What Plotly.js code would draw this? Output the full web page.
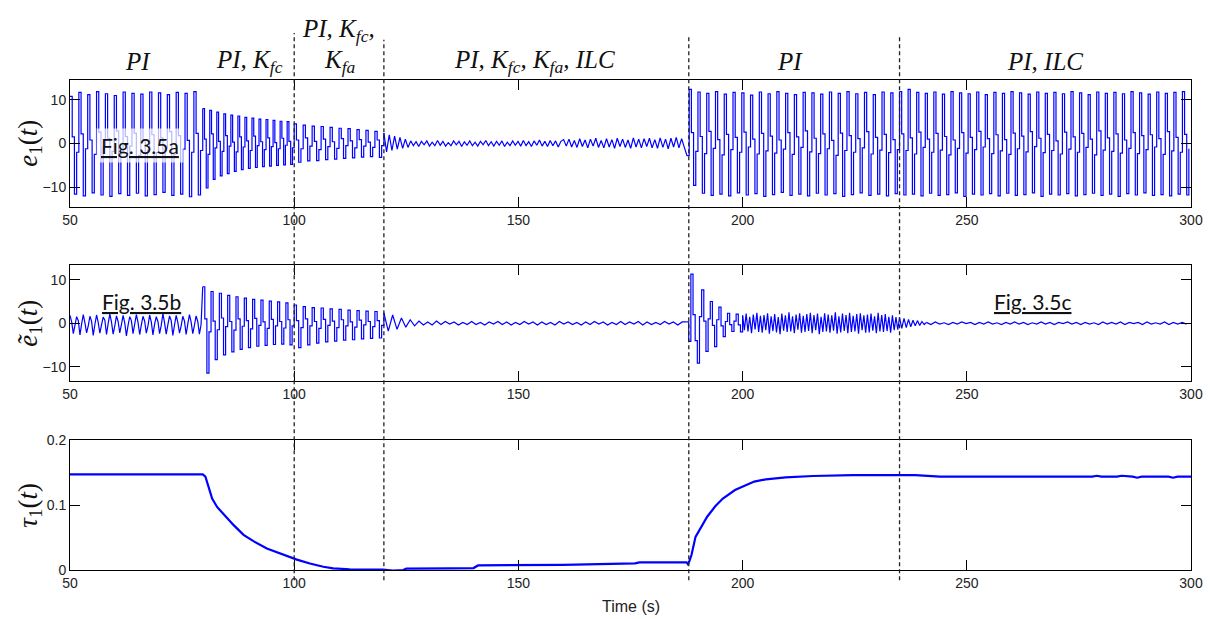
<!DOCTYPE html>
<html>
<head>
<meta charset="utf-8">
<script src="https://cdn.plot.ly/plotly-3.0.1.min.js"></script>
<style>html,body{margin:0;padding:0;background:#fff;}#chart{width:1213px;height:619px;}</style>
</head>
<body>
<div id="chart"></div>
<script>
// ---------------- DATA ----------------
// Time ticks
const xTicks = [50, 100, 150, 200, 250, 300];
// Phase boundaries (s)
const phaseBounds = [100, 120, 188, 235];
const phaseLabels = ["PI", "PI, K<sub>fc</sub>", "PI, K<sub>fc</sub>,", "K<sub>fa</sub>", "PI, K<sub>fc</sub>, K<sub>fa</sub>, ILC", "PI", "PI, ILC"];
const phaseLabelT = [65.2, 90.1, 109.8, 110.2, 153.7, 210.6, 267.4];

// e1(t): turning values (max, plateau, min, plateau ...) per segment
const e1_PI = [10.8,1.5,-11.6,-2.0, 11.7,2.2,-12.0,-1.2, 11.2,0.8,-11.3,-2.5, 11.9,2.6,-11.8,-0.9, 11.4,1.2,-12.1,-1.8,
  11.0,2.9,-11.5,-2.2, 11.8,1.6,-11.9,-0.6, 11.5,2.4,-11.4,-2.7, 11.3,0.9,-12.0,-1.5, 11.8,2.0,-11.7,-2.1,
  11.6,1.3,-11.2,-1.0, 11.2,2.7,-11.9,-2.4, 11.7,1.8,-11.6,-1.3, 11.5,0.7,-12.2,-2.0, 11.9,2.3,-11.8,-1.6];
const e1_Kfc = [8.0,1.0,-10.2,-2.5, 7.6,2.2,-8.2,-1.0, 7.2,0.5,-7.4,-1.8, 6.8,1.8,-6.9,-0.6, 6.5,0.3,-6.4,-1.9,
  6.3,1.5,-6.0,-0.8, 6.0,0.6,-5.7,-1.6, 5.8,1.7,-5.5,-0.5, 5.6,0.4,-5.3,-1.4, 5.5,1.3,-5.2,-0.7,
  5.3,0.2,-5.0,-1.2, 5.1,1.2,-4.9,-0.4, 5.0,0.5,-4.8,-1.0];
const e1_Kfa = [4.5,0.8,-4.3,-1.2, 4.2,1.3,-4.0,-0.6, 4.0,0.5,-3.9,-1.4, 3.9,1.0,-3.7,-0.7, 3.7,0.4,-3.6,-1.1,
  3.5,1.1,-3.4,-0.5, 3.4,0.6,-3.3,-1.0, 3.2,0.9,-3.1,-0.6, 3.0,0.3,-3.0,-0.9, 2.8,0.8,-3.2,-0.5];
const e1_ILC = [2.4,-1.9,2.0,-1.6,1.7,-1.3,1.4,-1.1,1.0,-0.9,
  0.6,-0.5,0.4,-0.7,0.5,-0.3,0.6,-0.6,0.3,-0.5,0.7,-0.4,0.5,-0.6,0.2,-0.5,0.6,-0.3,0.5,-0.7,0.4,-0.4,0.6,-0.5,0.3,-0.6,
  0.5,-0.3,0.7,-0.5,0.4,-0.6,0.5,-0.4,0.6,-0.7,0.3,-0.5,0.6,-0.4,0.5,-0.6,0.7,-0.5,0.4,-0.7,0.6,-0.4,0.8,-0.6,0.5,-0.7,0.7,-0.5,0.6,-0.8,0.5,
  0.9,-0.6,1.0,-0.8,0.7,-0.9,1.1,-0.7,0.8,-1.0,1.0,-0.6,1.2,-0.9,0.7,-1.0,1.1,-0.8,0.9,-1.1,1.2,-0.7,1.0,-0.9,0.8,-1.1,
  1.3,-0.8,1.0,-1.0,1.1,-0.7,1.2,-1.0,0.9,-1.1,1.3,-0.9,1.0,-1.2,1.2,-0.8,1.4,-1.0,1.1,-0.9];
const e1_PI2 = [-2.8, 12.4,2.5,-9.6,-1.8, 11.8,1.6,-11.4,-2.3, 11.5,2.8,-11.9,-1.1, 11.9,0.9,-11.6,-2.6, 11.3,2.1,-12.0,-1.4,
  11.7,1.4,-11.3,-2.0, 11.6,2.6,-11.8,-0.8, 11.1,1.0,-11.5,-2.4, 11.8,2.3,-12.1,-1.7, 11.4,1.7,-11.7,-2.2,
  11.9,0.8,-11.2,-1.3, 11.5,2.5,-11.9,-2.5, 11.2,1.5,-11.6,-0.9, 11.7,2.9,-12.0,-1.9, 11.6,1.2,-11.4,-2.3,
  11.3,2.2,-11.8,-1.2, 11.8,0.7,-11.5,-2.7, 11.5,2.4,-12.1,-1.6, 11.9,1.8,-11.7,-2.0, 11.4,1.1,-11.3,-1.0,
  11.7,2.7,-11.9,-2.4, 11.2,1.4,-11.6,-1.5, 11.8,2.1,-12.0,-2.1, 11.6,0.9,-11.5,-1.4];
const e1_PIILC = [11.9,2.2,-11.8,-1.6, 12.4,1.3,-11.6,-2.4, 11.7,2.6,-12.0,-0.9, 11.5,1.0,-11.4,-2.0, 11.8,2.3,-11.9,-1.5,
  11.3,1.6,-11.7,-2.6, 11.9,0.8,-11.3,-1.1, 11.6,2.5,-12.1,-2.2, 11.4,1.4,-11.6,-1.4, 11.8,2.8,-11.8,-0.8,
  11.2,1.1,-11.5,-2.3, 11.7,2.0,-12.0,-1.7, 11.5,0.9,-11.4,-2.5, 11.9,2.4,-11.9,-1.2, 11.6,1.7,-11.7,-1.9,
  11.3,2.7,-11.3,-0.7, 11.8,1.2,-12.1,-2.1, 11.5,2.1,-11.6,-1.6, 11.7,0.6,-11.8,-2.4, 11.4,2.6,-11.5,-1.3,
  11.9,1.5,-12.0,-2.0, 11.6,2.3,-11.7,-0.9, 11.2,1.0,-11.4,-2.6, 11.8,2.9,-11.9,-1.5, 11.5,1.3,-11.6,-1.8,
  11.7,2.2,-12.1,-2.2, 11.4,0.8,-11.5,-1.1, 11.9,2.5,-11.8,-2.3, 11.6,1.8,-11.3,-1.4, 11.3,2.0,-11.9,-0.8,
  11.8,1.1,-11.7,-2.5, 11.5,2.7,-12.0,-1.7, 11.7,1.4,-11.6,-2.0, 11.9,2.1,-11.8,-1.2];
const e1_segT = [[50,79.6],[79.6,100],[100,120],[120,187.6],[187.6,235],[235,300]];
const e1_segStep = [true, true, true, false, true, true];

// ẽ1(t): turning values per segment
const et_PI = [1.8,0.3,-2.4,-0.5, 1.5,0.6,-2.7,-0.2, 2.0,0.1,-2.2,-0.6, 1.6,0.5,-2.8,-0.3, 1.9,0.2,-2.3,-0.4,
  1.4,0.7,-2.6,-0.1, 2.1,0.3,-2.5,-0.6, 1.7,0.4,-2.2,-0.3, 1.8,0.1,-2.9,-0.5, 1.5,0.6,-2.4,-0.2,
  2.0,0.2,-2.6,-0.4, 1.6,0.5,-2.3,-0.6, 1.9,0.3,-2.7,-0.2, 1.5,0.4,-2.4,-0.5, 2.2,0.1,-2.5,-0.3,
  1.7,0.6,-2.8,-0.4, 1.8,0.2,-2.3,-0.6, 1.6,0.5,-2.6,-0.2, 2.0,0.3,-2.4,-0.5, 1.7,0.4,-2.5,-0.3];
const et_Kfc = [8.4,1.0,-11.5,-2.0, 7.3,0.5,-8.4,-1.5, 6.9,1.2,-7.3,-0.8, 6.4,0.4,-6.6,-1.6, 6.1,1.0,-6.0,-0.7,
  5.8,0.6,-5.6,-1.3, 5.5,1.1,-5.3,-0.5, 5.3,0.3,-5.1,-1.2, 5.1,0.9,-4.9,-0.6, 4.9,0.4,-4.8,-1.1, 4.7,0.8,-5.0,-0.6];
const et_Kfa = [4.2,0.6,-5.6,-1.0, 3.8,1.0,-5.0,-0.6, 3.6,0.4,-4.6,-1.2, 3.5,0.9,-4.3,-0.5, 3.3,0.5,-4.1,-1.0,
  3.2,0.8,-3.9,-0.6, 3.0,0.3,-3.8,-0.9, 2.9,0.7,-3.6,-0.4, 2.8,0.4,-3.5,-0.8, 2.7,0.6,-3.4,-0.5];
const et_ILC = [2.4,-1.8,1.9,-1.4,1.2,-0.9,0.8,-0.6,0.5,-0.4,0.3,-0.4,0.5,-0.3,0.4,-0.2,0.3,-0.4,0.2,-0.3,0.4,-0.3,0.2,-0.4,
  0.3,-0.2,0.4,-0.3,0.3,-0.4,0.2,-0.3,0.4,-0.2,0.3,-0.4,0.3,-0.3,0.2,-0.4,0.4,-0.2,0.3,-0.3,0.2,-0.4,0.3,-0.3,0.4,-0.2,
  0.3,-0.4,0.2,-0.3,0.4,-0.3,0.3,-0.2,0.4,-0.4,0.3,-0.3,0.2,-0.3,0.4,-0.2,0.3,-0.4,0.3];
const et_PIjump = [0.3,-4.2,11.3,2.0,-4.0,-9.2,1.5,7.7,0.5,-6.5,1.0,5.0,-0.5,-5.4,0.8,3.7,-0.6,-3.1,0.4,2.3,-0.3,-1.9,0.5,2.1,-0.4,-2.0];
const et_PI2 = [1.8,-1.6,2.2,-1.9,1.5,-2.3,2.0,-1.4,2.4,-2.0,1.7,-2.2,1.9,-1.6,2.3,-2.4,1.6,-1.8,2.1,-2.1,1.4,-2.5,2.2,-1.7,
  1.8,-2.0,2.5,-1.9,1.6,-2.3,2.0,-1.5,2.3,-2.2,1.7,-2.0,2.1,-1.8,2.4,-2.3,1.9,-1.6,2.2,-2.5,1.5,-2.0,2.3,-1.9,2.0,-2.2,
  1.8,-1.7,2.5,-2.4,1.6,-2.1,2.2,-1.8,1.9,-2.3,2.4,-2.0,1.7,-1.9,2.1,-2.4,2.3,-1.6,1.8,-2.2,2.0,-2.1,2.2,-1.7,1.6,-2.3,
  2.4,-1.9,1.9,-2.0,2.1,-1.8,1.5,-2.2,1.8,-1.6,1.4,-1.5];
const et_ILCsettle = [1.3,-1.2,1.1,-1.0,0.9,-0.8,0.7,-0.6,0.6,-0.5,0.4,-0.3];
const et_PIILC = [0.2,-0.3,0.3,-0.2,0.1,-0.3,0.2,-0.2,0.3,-0.1,0.2,-0.3,0.2,-0.2,0.3,-0.2,0.1,-0.3,0.2,-0.2,0.3,-0.2,
  0.2,-0.3,0.1,-0.2,0.3,-0.2,0.2,-0.3,0.2,-0.1,0.3,-0.2,0.2,-0.3,0.2,-0.2,0.1,-0.3,0.3,-0.2,0.2,-0.2,0.3,-0.3,0.2,-0.1,
  0.2,-0.3,0.3,-0.2,0.1,-0.2,0.3,-0.3,0.2,-0.2,0.2,-0.2];
const et_segT = [[50,79.6],[79.6,100],[100,120],[120,187.5],[187.5,200],[200,235],[235,241],[241,300]];
const et_segStep = [false, true, true, false, true, false, false, false];

// τ1(t)
const tauT = [50, 79.6, 80.2, 80.9, 81.7, 82.8, 84.3, 86.5, 88.7, 91, 93.9, 97.6, 100.6, 103.5, 106.5, 108.7, 112.4, 119.8, 122, 124.3,
  125, 135, 140, 141, 160, 176, 177, 187.5, 187.8, 188.1, 188.6, 189.5, 190.8, 192.1, 193.9, 195.6, 198.3, 200, 202.6, 205.2,
  209.6, 215.7, 224.5, 234, 238.5, 244, 278, 279, 280, 283.5, 284.5, 287, 288, 289, 295, 296, 297, 300];
const tauV = [0.147, 0.147, 0.1436, 0.128, 0.110, 0.097, 0.085, 0.069, 0.054, 0.044, 0.033, 0.023, 0.016, 0.010, 0.005, 0.0026, 0.001, 0.0005, -0.001, 0,
  0.002, 0.0025, 0.003, 0.007, 0.008, 0.0103, 0.0118, 0.0118, 0.009, 0.013, 0.023, 0.051, 0.067, 0.082, 0.098, 0.110, 0.123, 0.128, 0.136, 0.1395,
  0.1426, 0.1446, 0.146, 0.146, 0.146, 0.1436, 0.1436, 0.145, 0.1436, 0.1436, 0.145, 0.1436, 0.142, 0.1436, 0.1436, 0.142, 0.1436, 0.1436];

// ---------------- BUILD ----------------
const blue = '#0000ff';
function segmentTraces(segT, segs, steps, xa, ya) {
  const out = [];
  segs.forEach((vals, k) => {
    const t0 = segT[k][0], t1 = segT[k][1];
    const n = vals.length;
    const x = [], y = [];
    for (let i = 0; i < n; i++) {
      x.push(t0 + (t1 - t0) * i / n);
      y.push(vals[i]);
    }
    if (k + 1 < segs.length) { x.push(segT[k + 1][0]); y.push(segs[k + 1][0]); }
    out.push({x: x, y: y, xaxis: xa, yaxis: ya, type: 'scatter', mode: 'lines',
      line: {color: blue, width: 1.2, shape: steps[k] ? 'hv' : 'linear'}, hoverinfo: 'skip'});
  });
  return out;
}
const traces = [].concat(
  segmentTraces(e1_segT, [e1_PI, e1_Kfc, e1_Kfa, e1_ILC, e1_PI2, e1_PIILC], e1_segStep, 'x', 'y'),
  segmentTraces(et_segT, [et_PI, et_Kfc, et_Kfa, et_ILC, et_PIjump, et_PI2, et_ILCsettle, et_PIILC], et_segStep, 'x2', 'y2'),
  [{x: tauT, y: tauV, xaxis: 'x3', yaxis: 'y3', type: 'scatter', mode: 'lines', line: {color: blue, width: 2.2}, hoverinfo: 'skip'}]
);

const axCommon = {showline: true, linecolor: '#000', linewidth: 1, mirror: 'ticks', ticks: 'inside', ticklen: 10,
  tickwidth: 1, tickcolor: '#000', showgrid: false, zeroline: false,
  tickfont: {family: 'Liberation Sans, Arial, sans-serif', size: 14, color: '#222'}};
function xax(anchor) {
  return Object.assign({}, axCommon, {anchor: anchor, domain: [0, 1], range: [50, 300], tickvals: xTicks});
}

const mathFont = {family: 'Liberation Serif, Times New Roman, serif', size: 25, color: '#111'};
const annotations = [];
// phase labels
const labelY = [1.037, 1.037, 1.102, 1.037, 1.037, 1.037, 1.037];
phaseLabels.forEach((s, i) => {
  annotations.push({text: '<i>' + s + '</i>', x: phaseLabelT[i], y: labelY[i], xref: 'x', yref: 'paper',
    showarrow: false, xanchor: 'center', yanchor: 'middle', font: mathFont});
});
// y titles
const yTitles = ['<i>e</i><sub>1</sub>(<i>t</i>)', '<i>ẽ</i><sub>1</sub>(<i>t</i>)', '<i>τ</i><sub>1</sub>(<i>t</i>)'];
const yTitlePos = [(570 - 143) / 490, (570 - 323) / 490, (570 - 505) / 490];
yTitles.forEach((s, i) => {
  annotations.push({text: s, x: -0.036, y: yTitlePos[i], xref: 'paper', yref: 'paper', textangle: -90,
    showarrow: false, xanchor: 'center', yanchor: 'middle',
    font: {family: 'Liberation Serif, Times New Roman, serif', size: 27, color: '#111'}});
});
// x title
annotations.push({text: 'Time (s)', x: 0.5, y: -0.074, xref: 'paper', yref: 'paper', showarrow: false,
  xanchor: 'center', yanchor: 'middle', font: {family: 'Liberation Sans, Arial, sans-serif', size: 16, color: '#222'}});
// Fig labels
const figLabels = ['Fig. 3.5a', 'Fig. 3.5b', 'Fig. 3.5c'];
const figPos = [[0.0624, 0.867], [0.0642, 0.547], [0.859, 0.547]];
figLabels.forEach((s, i) => {
  annotations.push({text: '<u>' + s + '</u>', x: figPos[i][0], y: figPos[i][1], xref: 'paper', yref: 'paper',
    showarrow: false, xanchor: 'center', yanchor: 'middle', bgcolor: i === 0 ? 'rgba(255,255,255,0.72)' : 'rgba(255,255,255,0)',
    borderpad: 4, font: {family: 'Lato, Noto Sans, sans-serif', size: 21, color: '#111'}});
});

// dashed phase boundary lines
const lineTop = [1.096, 1.082, 1.092, 1.088];
const shapes = phaseBounds.map((t, i) => ({type: 'line', xref: 'x', yref: 'paper', x0: t, x1: t, y0: -0.021, y1: lineTop[i],
  line: {color: '#222', width: 1.3, dash: '4px,3px'}}));

const layout = {
  width: 1213, height: 619,
  margin: {l: 70, r: 22, t: 80, b: 49},
  paper_bgcolor: '#fff', plot_bgcolor: '#fff', showlegend: false,
  font: {family: 'Liberation Sans, Arial, sans-serif', size: 14, color: '#222'},
  xaxis: xax('y'), xaxis2: xax('y2'), xaxis3: xax('y3'),
  yaxis: Object.assign({}, axCommon, {anchor: 'x', domain: [0.7408, 1], range: [-14.55, 14.55], tickvals: [-10, 0, 10]}),
  yaxis2: Object.assign({}, axCommon, {anchor: 'x2', domain: [0.3857, 0.6224], range: [-13.3, 13.4], tickvals: [-10, 0, 10]}),
  yaxis3: Object.assign({}, axCommon, {anchor: 'x3', domain: [0, 0.2653], range: [0, 0.2], tickvals: [0, 0.1, 0.2]}),
  annotations: annotations, shapes: shapes
};

Plotly.newPlot('chart', traces, layout, {staticPlot: true, displayModeBar: false});
</script>
</body>
</html>
